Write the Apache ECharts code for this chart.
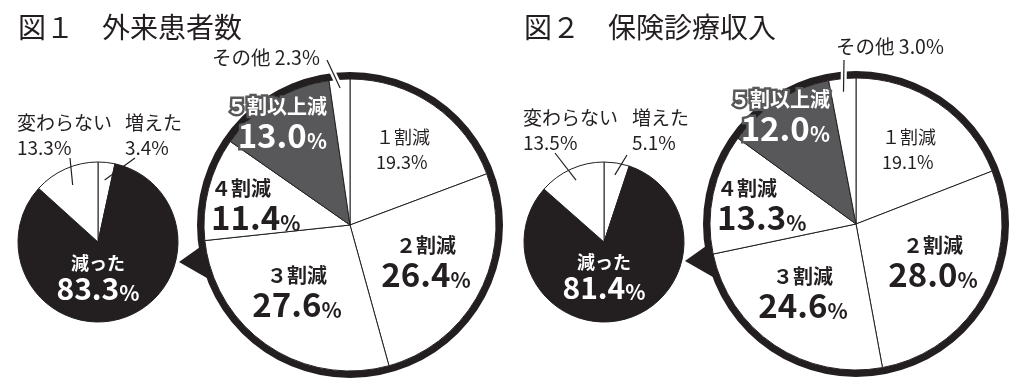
<!DOCTYPE html>
<html><head><meta charset="utf-8">
<script src="https://cdn.jsdelivr.net/npm/echarts@6/dist/echarts.min.js"></script>
<style>html,body{margin:0;padding:0;background:#fff;}#c{width:1022px;height:384px;}</style>
</head><body><div id="c"></div>
<script>
// ---- data ----
const titles = ['図１　外来患者数', '図２　保険診療収入'];
const smallCategories = ['増えた', '減った', '変わらない'];
const smallValues1 = [3.4, 83.3, 13.3];
const smallValues2 = [5.1, 81.4, 13.5];
const bigCategories = ['１割減', '２割減', '３割減', '４割減', '５割以上減', 'その他'];
const bigValues1 = [19.3, 26.4, 27.6, 11.4, 13.0, 2.3];
const bigValues2 = [19.1, 28.0, 24.6, 13.3, 12.0, 3.0];

// ---- layout / style ----
const FONT = '"Noto Sans CJK JP", "Noto Sans", sans-serif';
const INK = '#231f20', GRAY = '#58585a', WHITE = '#ffffff';
const SR = 80, BR = 146, RING = 153;
const panels = [
  { title: titles[0], titleX: 13, sv: smallValues1, bv: bigValues1,
    sc: [98, 242], bc: [350, 225],
    sl: [[125, 135, 'left'], [98, 278, 'center'], [17, 135, 'left']],
    bl: [[376, 150, 'left'], [426, 262, 'center'], [297, 292, 'center'], [211, 205, 'left'], [327, 123, 'right'], [212, 58, 'left']],
    leaders: [['s', 0, 0.78, [135, 158]], ['s', 2, 0.78, [70, 158]], ['b', 5, 0.94, [327, 60]]] },
  { title: titles[1], titleX: 519, sv: smallValues2, bv: bigValues2,
    sc: [604, 242], bc: [856, 224],
    sl: [[632, 130, 'left'], [604, 277, 'center'], [523, 130, 'left']],
    bl: [[882, 150, 'left'], [933, 262, 'center'], [803, 293, 'center'], [717, 205, 'left'], [830, 116, 'right'], [836, 47, 'left']],
    leaders: [['s', 0, 0.85, [627, 155]], ['s', 2, 0.85, [555, 153]], ['b', 5, 0.91, [844, 60]]] }
];

const tok = (size, weight, color, lh, extra) => Object.assign({fontFamily: FONT, fontSize: size, fontWeight: weight, color: color, lineHeight: lh}, extra || {});
const halo = {textBorderColor: GRAY, textBorderWidth: 5};
const richBig = {
  a: tok(20, 'bold', INK, 24),
  b: tok(33, 'bold', INK, 34, {verticalAlign: 'bottom'}),
  c: tok(21, 'bold', INK, 34, {verticalAlign: 'bottom'}),
  d: tok(18, 'normal', INK, 25),
  e: tok(19.5, 'normal', INK, 25),
  wa: tok(20, 'bold', WHITE, 24, halo),
  wb: tok(33, 'bold', WHITE, 34, Object.assign({verticalAlign: 'bottom'}, halo)),
  wc: tok(21, 'bold', WHITE, 34, Object.assign({verticalAlign: 'bottom'}, halo))
};
const richSmall = {
  s: tok(19, 'normal', INK, 25),
  w: tok(18, 'bold', WHITE, 22),
  x: tok(30, 'bold', WHITE, 30, {verticalAlign: 'bottom'}),
  y: tok(21, 'bold', WHITE, 30, {verticalAlign: 'bottom'})
};
function bigFormatter(p) {
  const v = p.value.toFixed(1), i = p.dataIndex;
  if (i === 0) return '{d|' + p.name + '}\n{d|' + v + '%}';
  if (i === 4) return '{wa|' + p.name + '}\n{wb|' + v + '}{wc|%}';
  if (i === 5) return '{e|' + p.name + ' ' + v + '%}';
  return '{a|' + p.name + '}\n{b|' + v + '}{c|%}';
}
function smallFormatter(p) {
  const v = p.value.toFixed(1);
  if (p.dataIndex === 1) return '{w|' + p.name + '}\n{x|' + v + '}{y|%}';
  return '{s|' + p.name + '}\n{s|' + v + '%}';
}
function midPoint(values, idx, center, r) {
  const total = values.reduce((a, b) => a + b, 0);
  let cum = 0;
  for (let i = 0; i < idx; i++) cum += values[i];
  const ang = (cum + values[idx] / 2) / total * 2 * Math.PI;
  return [center[0] + r * Math.sin(ang), center[1] - r * Math.cos(ang)];
}

const series = [], graphic = [], title = [];
panels.forEach(P => {
  title.push({text: P.title, left: P.titleX, top: 8,
    textStyle: {fontFamily: FONT, fontSize: 28, fontWeight: 'normal', color: INK}});
  const colorsS = [WHITE, INK, WHITE];
  series.push({
    type: 'pie', center: P.sc, radius: SR, startAngle: 90, clockwise: true,
    silent: true, animation: false, avoidLabelOverlap: false,
    itemStyle: {borderColor: INK, borderWidth: 1},
    label: {show: true, position: 'inside', formatter: smallFormatter, rich: richSmall},
    labelLine: {show: false},
    labelLayout: p => ({x: P.sl[p.dataIndex][0], y: P.sl[p.dataIndex][1], align: P.sl[p.dataIndex][2], verticalAlign: 'middle'}),
    data: smallCategories.map((n, i) => ({name: n, value: P.sv[i], itemStyle: {color: colorsS[i]}}))
  });
  const colorsB = [WHITE, WHITE, WHITE, WHITE, GRAY, WHITE];
  series.push({
    type: 'pie', center: P.bc, radius: BR, startAngle: 90, clockwise: true,
    silent: true, animation: false, avoidLabelOverlap: false,
    itemStyle: {borderColor: INK, borderWidth: 1},
    label: {show: true, position: 'inside', formatter: bigFormatter, rich: richBig},
    labelLine: {show: false},
    labelLayout: p => ({x: P.bl[p.dataIndex][0], y: P.bl[p.dataIndex][1], align: P.bl[p.dataIndex][2], verticalAlign: 'middle'}),
    data: bigCategories.map((n, i) => ({name: n, value: P.bv[i], itemStyle: {color: colorsB[i]}}))
  });
  // pointer triangle from magnified circle to the small pie
  const cx = P.bc[0], cy = P.bc[1], rr = 150;
  const tip = [cx - 171, cy + 37];
  const b1 = [cx - Math.sqrt(rr * rr - 21 * 21), cy + 21];
  const b2 = [cx - Math.sqrt(rr * rr - 55 * 55), cy + 55];
  graphic.push({type: 'polygon', z: 1, silent: true, shape: {points: [tip, b1, b2]}, style: {fill: INK}});
  graphic.push({type: 'ring', z: 1, silent: true, shape: {cx: cx, cy: cy, r: RING, r0: BR}, style: {fill: INK}});
  P.leaders.forEach(L => {
    const isSmall = L[0] === 's';
    const start = midPoint(isSmall ? P.sv : P.bv, L[1], isSmall ? P.sc : P.bc, (isSmall ? SR : BR) * L[2]);
    const end = L[3];
    if (!isSmall) graphic.push({type: 'line', z: 9, silent: true, shape: {x1: start[0], y1: start[1], x2: end[0], y2: end[1]}, style: {stroke: WHITE, lineWidth: 6}});
    graphic.push({type: 'line', z: 10, silent: true, shape: {x1: start[0], y1: start[1], x2: end[0], y2: end[1]}, style: {stroke: INK, lineWidth: 1.2}});
  });
});

const chart = echarts.init(document.getElementById('c'));
chart.setOption({backgroundColor: '#fff', animation: false, title: title, series: series, graphic: graphic});
</script></body></html>
